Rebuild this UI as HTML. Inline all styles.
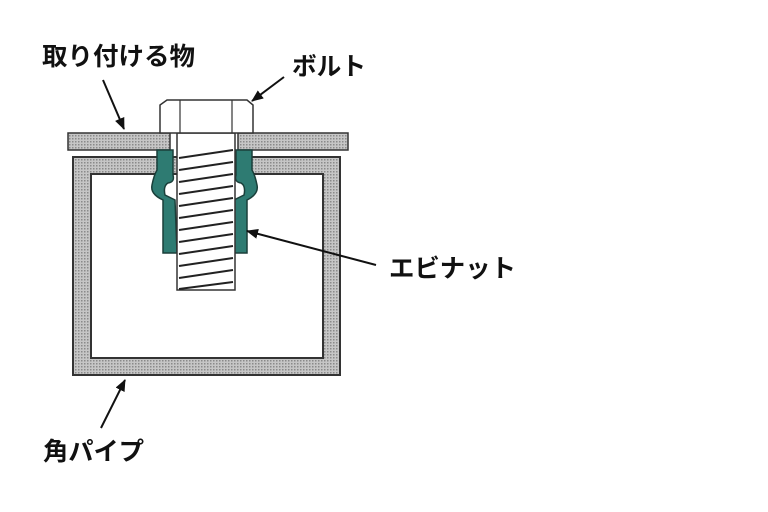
<!DOCTYPE html>
<html><head><meta charset="utf-8"><style>
html,body{margin:0;padding:0;background:#fff;}
svg{display:block}
text{font-family:"Liberation Sans","Noto Sans CJK JP",sans-serif;font-weight:bold;fill:#111;font-size:25px}
</style></head><body>
<svg width="768" height="512" viewBox="0 0 768 512" xmlns="http://www.w3.org/2000/svg">
<defs>
<pattern id="dot" width="3" height="3" patternUnits="userSpaceOnUse">
<rect width="3" height="3" fill="#c6c6c6"/><rect width="1.5" height="1.5" fill="#8a8a8a"/>
</pattern>
<marker id="ah" markerWidth="12" markerHeight="10" refX="11" refY="5" orient="auto" markerUnits="userSpaceOnUse">
<path d="M0,0 L12,5 L0,10 z" fill="#111"/>
</marker>
</defs>
<path d="M73,157 H340 V375 H73 Z M91,174 V358 H323 V174 Z" fill="url(#dot)" fill-rule="evenodd" stroke="#333" stroke-width="2"/>
<rect x="68" y="133" width="102" height="17" fill="url(#dot)" stroke="#333" stroke-width="1.5"/>
<rect x="238" y="133" width="110" height="17" fill="url(#dot)" stroke="#333" stroke-width="1.5"/>
<path d="M157,150 H173 V175 Q175,182 168,183 Q163,186 165,195 L175,200 L177,253 H163 V200 Q150,194 152,185 Q154,175 157,170 Z" fill="#2e7b72" stroke="#1a3f3a" stroke-width="1.5"/>
<path d="M252,150 H236 V175 Q234,182 241,183 Q246,186 244,195 L234,200 L232,253 H247 V200 Q259,194 257,185 Q255,175 252,170 Z" fill="#2e7b72" stroke="#1a3f3a" stroke-width="1.5"/>
<rect x="177" y="133" width="58" height="157" fill="#fff" stroke="#333" stroke-width="1.5"/>
<g stroke="#222" stroke-width="2" fill="none">
<path d="M179,158 L233,150 M179,170 L233,162 M179,182 L233,174 M179,194 L233,186 M179,206 L233,198 M179,218 L233,210 M179,230 L233,222 M179,242 L233,234 M179,254 L233,246 M179,266 L233,258 M179,278 L233,270 M179,289 L233,282"/>
</g>
<path d="M160,133 V105 L167,100 H247 L253,105 V133 Z" fill="#fff" stroke="#333" stroke-width="1.5"/>
<line x1="180" y1="100" x2="180" y2="133" stroke="#333" stroke-width="1.2"/>
<line x1="232" y1="100" x2="232" y2="133" stroke="#333" stroke-width="1.2"/>
<g stroke="#111" stroke-width="2" marker-end="url(#ah)">
<line x1="103" y1="80" x2="124" y2="129"/>
<line x1="284" y1="77" x2="252" y2="101"/>
<line x1="376" y1="265" x2="247" y2="231"/>
<line x1="101" y1="428" x2="125" y2="380"/>
</g>
<text x="42" y="65" textLength="153" lengthAdjust="spacingAndGlyphs">取り付ける物</text>
<text x="292" y="75" textLength="74" lengthAdjust="spacingAndGlyphs">ボルト</text>
<text x="389" y="277" textLength="127" lengthAdjust="spacingAndGlyphs">エビナット</text>
<text x="43" y="460" textLength="101" lengthAdjust="spacingAndGlyphs">角パイプ</text>
</svg>
</body></html>
